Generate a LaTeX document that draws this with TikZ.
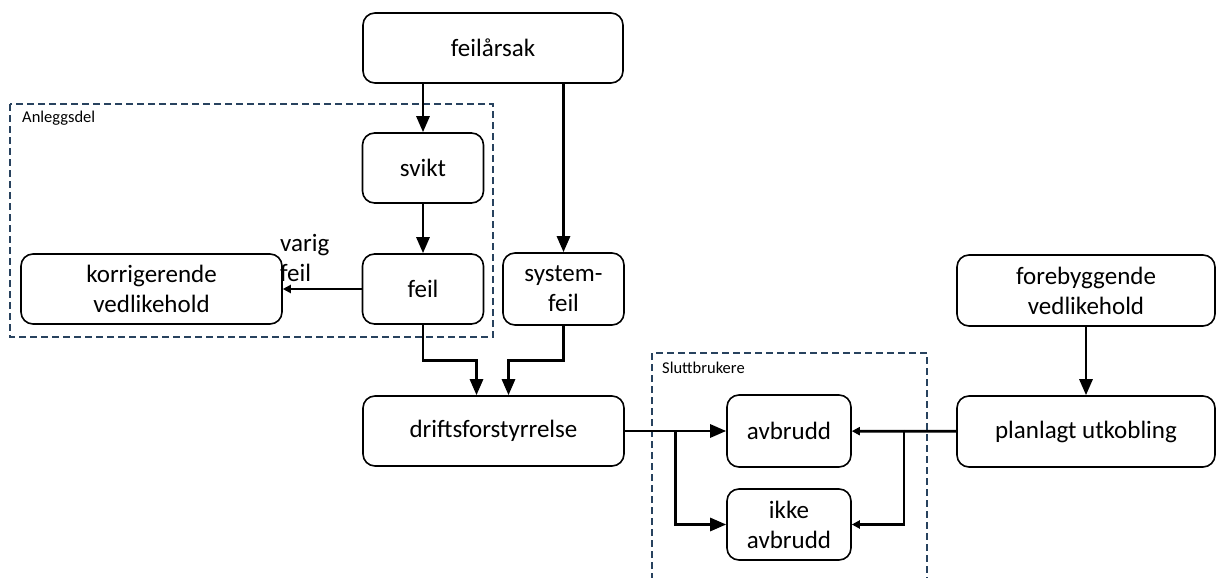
\documentclass[tikz,border=0pt]{standalone}
\usepackage{fontspec}
\setmainfont{Carlito}
\usetikzlibrary{arrows.meta,calc,positioning}
\definecolor{rammeblaa}{RGB}{40,66,94}
\tikzset{
  boks/.style={draw,line width=1.6pt,rounded corners=12pt,align=center,inner sep=0pt,font=\fontsize{25}{30}\selectfont},
  pil/.style={line width=2.8pt,-{Triangle[length=16pt,width=13pt]}},
  tynnpil/.style={line width=2.8pt,-{Triangle[length=8pt,width=8pt]}},
  ramme/.style={draw=rammeblaa,line width=1.3pt,dash pattern=on 7pt off 4pt},
  rammetekst/.style={anchor=base west,inner sep=0pt,font=\fontsize{16.5}{20}\selectfont}
}
\begin{document}
\begin{tikzpicture}[x=1pt,y=-1pt]
      \useasboundingbox(0,0)rectangle(1216,578);
      % grupper
      \draw[ramme](10,104)rectangle(493,337);
      \node[rammetekst](anlegg)at(22,122){Anleggsdel};
      \draw[ramme](652,580)--(652,353)--(927,353)--(927,580);
      \node[rammetekst](brukere)at(662,373){Sluttbrukere};
      % bokser: navn/x/y/bredde/hoyde/tekst
      \foreach \navn/\x/\y/\b/\h/\tekst in{
        aarsak/493/48/260/70/feilårsak,
        svikt/423/168/121/70/svikt,
        feil/423/289/121/70/feil,
        korr/151.5/289/261/70/{korrigerende\\vedlikehold},
        sysfeil/563.5/289/121/72/{system-\\feil},
        drift/493.5/431/261/70/driftsforstyrrelse,
        avbr/789/431/124/72/avbrudd,
        ikke/789/524.5/124/71/{ikke\\avbrudd},
        forebygg/1086/290.5/258/71/{forebyggende\\vedlikehold},
        plan/1086/431.5/258/71/planlagt utkobling}{
        \node[boks,minimum width=\b pt,minimum height=\h pt](\navn)at(\x,\y){\tekst};
      }
      \coordinate(venstre)at($(drift.east)!0.5!(avbr.west)$);
      \coordinate(hoyre)at($(avbr.east)!0.5!(plan.west)$);
      % piler
      \draw[pil](aarsak.south-|svikt)--(svikt);
      \draw[pil](aarsak.south-|sysfeil)--(sysfeil);
      \draw[pil](svikt)--(feil);
      \draw[tynnpil](feil)--(korr)node[pos=1,anchor=south west,align=left,inner sep=0pt,xshift=-4pt,yshift=6pt,font=\fontsize{25}{30}\selectfont]{varig\\feil};
      \draw[pil](feil)--($(feil.south)+(0,36)$)-|($(drift.north)+(-17,0)$);
      \draw[pil](sysfeil)--($(sysfeil.south)+(0,35)$)-|($(drift.north)+(15,0)$);
      \draw[pil](drift)--(avbr);
      \draw[pil](venstre)|-(ikke);
      \draw[line width=2.8pt](plan)--(hoyre);
      \draw[tynnpil](hoyre)--(avbr);
      \draw[tynnpil](hoyre)|-(ikke);
      \draw[pil](forebygg)--(plan);
    \end{tikzpicture}
\end{document}
